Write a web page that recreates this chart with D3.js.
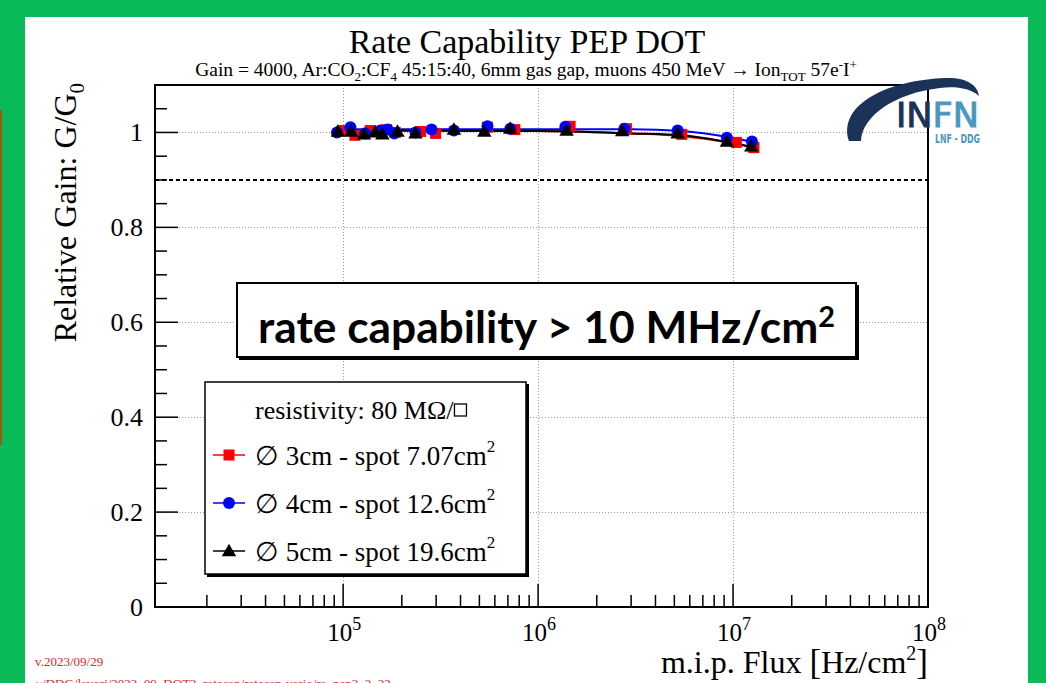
<!DOCTYPE html>
<head>
  <meta charset="utf-8" />
  <title>Rate Capability PEP DOT</title>
  <script src="https://d3js.org/d3.v7.min.js"></script>
  <style>
    body { margin: 0; background: #0aba58; }
    svg { display: block; }
    .serif { font-family: "Liberation Serif", "DejaVu Serif", serif; }
  </style>
</head>
<body>
<script>
  // ---- data ----
  const fluxRed = [9.9e4, 1.15e5, 1.38e5, 1.67e5, 1.85e5, 2.5e5, 2.98e5, 5.5e5, 7.6e5, 1.46e6, 2.84e6, 5.46e6, 1.04e7, 1.28e7];
  const gainRed = [1.004, 0.994, 1.004, 1.006, 1.0, 1.002, 0.998, 1.011, 1.006, 1.013, 1.008, 0.996, 0.979, 0.968];

  const fluxBlue = [9.3e4, 1.09e5, 1.3e5, 1.55e5, 1.69e5, 1.83e5, 2.35e5, 2.84e5, 3.7e5, 5.5e5, 7.2e5, 1.38e6, 2.77e6, 5.2e6, 9.3e6, 1.25e7];
  const gainBlue = [1.0, 1.011, 0.998, 1.004, 1.006, 0.998, 1.0, 1.006, 1.004, 1.013, 1.008, 1.012, 1.008, 1.004, 0.989, 0.981];

  const fluxBlack = [9.4e4, 1.1e5, 1.28e5, 1.46e5, 1.59e5, 1.9e5, 2.35e5, 3.7e5, 5.3e5, 7.2e5, 1.4e6, 2.7e6, 5.2e6, 9.3e6, 1.24e7];
  const gainBlack = [1.002, 1.002, 0.996, 1.0, 0.996, 1.002, 0.998, 1.006, 1.002, 1.008, 1.004, 1.003, 0.998, 0.981, 0.971];

  // fitted curves
  const fitFlux = [9e4, 1e5, 1e6, 3e6, 5.5e6, 9.5e6, 1.3e7];
  const fitRed = [1.004, 1.004, 1.003, 0.998, 0.992, 0.979, 0.968];
  const fitBlue = [1.007, 1.007, 1.007, 1.007, 1.003, 0.99, 0.979];
  const fitBlack = [1.004, 1.004, 1.003, 0.998, 0.994, 0.979, 0.968];

  const yTicks = [0, 0.2, 0.4, 0.6, 0.8, 1];
  const yTickLabels = ["0", "0.2", "0.4", "0.6", "0.8", "1"];
  const xDecades = [1e5, 1e6, 1e7, 1e8];
  const xExponents = ["5", "6", "7", "8"];
  const threshold = 0.9;

  const legendRows = [
    { label: "3cm - spot 7.07cm", color: "#ff0000", shape: "square" },
    { label: "4cm - spot 12.6cm", color: "#0000ff", shape: "circle" },
    { label: "5cm - spot 19.6cm", color: "#000000", shape: "triangle" },
  ];

  // ---- layout ----
  const W = 1046, H = 683;
  const pL = 155, pR = 928, pT = 85, pB = 607;

  const x = d3.scaleLog().domain([Math.pow(10, 4.035), 1e8]).range([pL, pR]);
  const y = d3.scaleLinear().domain([0, 1.1]).range([pB, pT]);

  const svg = d3.select("body").append("svg").attr("width", W).attr("height", H);

  svg.append("rect").attr("width", W).attr("height", H).attr("fill", "#0aba58");
  svg.append("rect").attr("x", 0).attr("y", 110).attr("width", 2).attr("height", 335).attr("fill", "#9a5a12");
  svg.append("rect").attr("x", 25).attr("y", 17).attr("width", 1003).attr("height", H - 17).attr("fill", "#fff");

  // grid
  const grid = svg.append("g").attr("stroke", "#999").attr("stroke-width", 1).attr("stroke-dasharray", "1,2");
  grid.selectAll(".gx").data(xDecades.slice(0, 3)).join("line")
    .attr("x1", (d) => Math.round(x(d)) + 0.5).attr("x2", (d) => Math.round(x(d)) + 0.5)
    .attr("y1", pT).attr("y2", pB);
  grid.selectAll(".gy").data(yTicks.slice(1)).join("line")
    .attr("x1", pL).attr("x2", pR)
    .attr("y1", (d) => Math.round(y(d)) + 0.5).attr("y2", (d) => Math.round(y(d)) + 0.5);

  // threshold
  svg.append("line").attr("x1", pL).attr("x2", pR)
    .attr("y1", y(threshold)).attr("y2", y(threshold))
    .attr("stroke", "#000").attr("stroke-width", 2).attr("stroke-dasharray", "4,3");

  // frame
  svg.append("rect").attr("x", pL).attr("y", pT).attr("width", pR - pL).attr("height", pB - pT)
    .attr("fill", "none").attr("stroke", "#000").attr("stroke-width", 2);

  // y ticks (inward)
  const yMinor = d3.range(0, 1.1001, 0.05);
  svg.append("g").attr("stroke", "#000").attr("stroke-width", 1.5)
    .selectAll("line").data(yMinor).join("line")
    .attr("x1", pL).attr("x2", (d) => pL + (Math.abs(d * 5 - Math.round(d * 5)) < 1e-6 ? 23 : 12))
    .attr("y1", (d) => y(d)).attr("y2", (d) => y(d));

  svg.append("g").attr("class", "serif").attr("font-size", 26).attr("text-anchor", "end")
    .selectAll("text").data(yTicks).join("text")
    .attr("x", pL - 12).attr("y", (d) => y(d) + 9)
    .text((d, i) => yTickLabels[i]);

  // x ticks (inward)
  const xMinor = [];
  [1e4, 1e5, 1e6, 1e7].forEach((dec) => d3.range(1, 10).forEach((k) => xMinor.push(dec * k)));
  xMinor.push(1e8);
  svg.append("g").attr("stroke", "#000").attr("stroke-width", 1.5)
    .selectAll("line").data(xMinor.filter((d) => x(d) >= pL)).join("line")
    .attr("x1", (d) => x(d)).attr("x2", (d) => x(d))
    .attr("y1", pB).attr("y2", (d) => pB - (xDecades.includes(d) ? 23 : 12));

  const xl = svg.append("g").attr("class", "serif").attr("font-size", 25)
    .selectAll("text").data(xDecades).join("text")
    .attr("x", (d) => x(d) - 16).attr("y", 641);
  xl.append("tspan").text("10");
  xl.append("tspan").attr("dy", -11).attr("font-size", 18).text((d, i) => xExponents[i]);

  // axis titles
  const xt = svg.append("text").attr("class", "serif").attr("font-size", 32).attr("text-anchor", "end")
    .attr("x", pR).attr("y", 673);
  xt.append("tspan").text("m.i.p. Flux ");
  xt.append("tspan").attr("font-size", 35).attr("dy", 1).text("[");
  xt.append("tspan").attr("dy", -1).text("Hz/cm");
  xt.append("tspan").attr("font-size", 20).attr("dy", -13).text("2");
  xt.append("tspan").attr("font-size", 35).attr("dy", 14).text("]");

  const yt = svg.append("text").attr("class", "serif").attr("font-size", 32).attr("text-anchor", "end")
    .attr("transform", `translate(76,${pT - 2}) rotate(-90)`);
  yt.append("tspan").text("Relative Gain: G/G");
  yt.append("tspan").attr("font-size", 21).attr("dy", 8).text("0");

  // title
  svg.append("text").attr("class", "serif").attr("font-size", 34).attr("text-anchor", "middle")
    .attr("x", 527).attr("y", 53).text("Rate Capability PEP DOT");
  const st = svg.append("text").attr("class", "serif").attr("font-size", 19.5).attr("text-anchor", "middle")
    .attr("x", 526).attr("y", 76);
  st.append("tspan").text("Gain = 4000, Ar:CO");
  st.append("tspan").attr("font-size", 13).attr("dy", 5).text("2");
  st.append("tspan").attr("dy", -5).text(":CF");
  st.append("tspan").attr("font-size", 13).attr("dy", 5).text("4");
  st.append("tspan").attr("dy", -5).text(" 45:15:40, 6mm gas gap, muons 450 MeV \u2192 Ion");
  st.append("tspan").attr("font-size", 13).attr("dy", 5).text("TOT");
  st.append("tspan").attr("dy", -5).text(" 57e");
  st.append("tspan").attr("font-size", 13).attr("dy", -7).text("-");
  st.append("tspan").attr("dy", 7).text("I");
  st.append("tspan").attr("font-size", 13).attr("dy", -7).text("+");

  // fit curves
  const line = d3.line().x((d) => x(d[0])).y((d) => y(d[1])).curve(d3.curveMonotoneX);
  [[fitRed, "#ff0000"], [fitBlue, "#0000ff"], [fitBlack, "#000000"]].forEach(([vals, c]) => {
    svg.append("path").datum(fitFlux.map((f, i) => [f, vals[i]]))
      .attr("d", line).attr("fill", "none").attr("stroke", c).attr("stroke-width", 2);
  });

  // markers
  const tri = d3.symbol().type(d3.symbolTriangle).size(90);
  function drawMarker(g, shape, color, cx, cy) {
    if (shape === "square") {
      g.append("rect").attr("x", cx - 5.5).attr("y", cy - 5.5).attr("width", 11).attr("height", 11).attr("fill", color);
    } else if (shape === "circle") {
      g.append("circle").attr("cx", cx).attr("cy", cy).attr("r", 6).attr("fill", color);
    } else {
      g.append("path").attr("d", tri).attr("transform", `translate(${cx},${cy + 1})`).attr("fill", color);
    }
  }
  const pts = svg.append("g");
  fluxRed.forEach((f, i) => drawMarker(pts, "square", "#ff0000", x(f), y(gainRed[i])));
  fluxBlue.forEach((f, i) => drawMarker(pts, "circle", "#0000ff", x(f), y(gainBlue[i])));
  fluxBlack.forEach((f, i) => drawMarker(pts, "triangle", "#000000", x(f), y(gainBlack[i])));

  // annotation box
  svg.append("rect").attr("x", 239).attr("y", 285).attr("width", 620).attr("height", 75).attr("fill", "#000");
  svg.append("rect").attr("x", 237).attr("y", 283).attr("width", 619).attr("height", 74)
    .attr("fill", "#fff").attr("stroke", "#000").attr("stroke-width", 2);
  const big = svg.append("text").attr("font-family", "Lato, 'Open Sans', sans-serif").attr("font-weight", "bold")
    .attr("font-size", 43).attr("x", 258).attr("y", 343).attr("textLength", 577).attr("lengthAdjust", "spacingAndGlyphs");
  big.append("tspan").text("rate capability > 10 MHz/cm");
  big.append("tspan").attr("font-size", 28).attr("dy", -16).text("2");

  // legend
  svg.append("rect").attr("x", 207).attr("y", 384).attr("width", 322).attr("height", 193).attr("fill", "#000");
  svg.append("rect").attr("x", 205).attr("y", 382).attr("width", 321).attr("height", 192)
    .attr("fill", "#fff").attr("stroke", "#000").attr("stroke-width", 1.5);
  const lh = svg.append("text").attr("class", "serif").attr("font-size", 26)
    .attr("x", 255).attr("y", 419).text("resistivity: 80 M\u03A9/");
  const lhEnd = 255 + lh.node().getComputedTextLength();
  svg.append("rect").attr("x", lhEnd + 1).attr("y", 404).attr("width", 12).attr("height", 12)
    .attr("fill", "none").attr("stroke", "#000").attr("stroke-width", 1.3);

  const lg = svg.append("g");
  legendRows.forEach((r, i) => {
    const cy = 455 + i * 48;
    lg.append("line").attr("x1", 213).attr("x2", 245).attr("y1", cy).attr("y2", cy)
      .attr("stroke", r.color).attr("stroke-width", 1.5);
    drawMarker(lg, r.shape, r.color, 229, cy);
    const t = lg.append("text").attr("class", "serif").attr("font-size", 27).attr("x", 255).attr("y", cy + 10);
    t.append("tspan").text("\u2205 " + r.label);
    t.append("tspan").attr("font-size", 17).attr("dy", -13).text("2");
  });

  // INFN logo
  const logo = svg.append("g");
  logo.append("path")
    .attr("d", "M849,141 C838,108 880,81 945,78 C966,77 978,85 979,96 C970,88 955,86 940,88 C895,93 862,116 861,141 Z")
    .attr("fill", "#1b3358");
  logo.append("text").attr("x", 896).attr("y", 127).attr("font-family", "DejaVu Sans, sans-serif")
    .attr("font-size", 34).attr("textLength", 83).attr("lengthAdjust", "spacingAndGlyphs")
    .attr("stroke-width", 1)
    .selectAll("tspan").data([["IN", "#1b3358"], ["FN", "#4a97c2"]]).join("tspan")
    .attr("fill", (d) => d[1]).attr("stroke", (d) => d[1]).text((d) => d[0]);
  logo.append("text").attr("x", 935).attr("y", 143).attr("font-family", "'DejaVu Sans Condensed', sans-serif")
    .attr("font-weight", "bold").attr("font-size", 12).attr("fill", "#4a97c2")
    .attr("textLength", 45).attr("lengthAdjust", "spacingAndGlyphs").text("LNF - DDG");

  // footer
  svg.append("text").attr("class", "serif").attr("font-size", 13).attr("fill", "#d42a2a")
    .attr("x", 35).attr("y", 666).text("v.2023/09/29");
  svg.append("text").attr("class", "serif").attr("font-size", 13).attr("fill", "#d42a2a")
    .attr("x", 35).attr("y", 688).text("~/DDG/lavori/2023_09_DOT3_ratecap/ratecap-vario/ra_pep3_3_22");
</script>
</body>
